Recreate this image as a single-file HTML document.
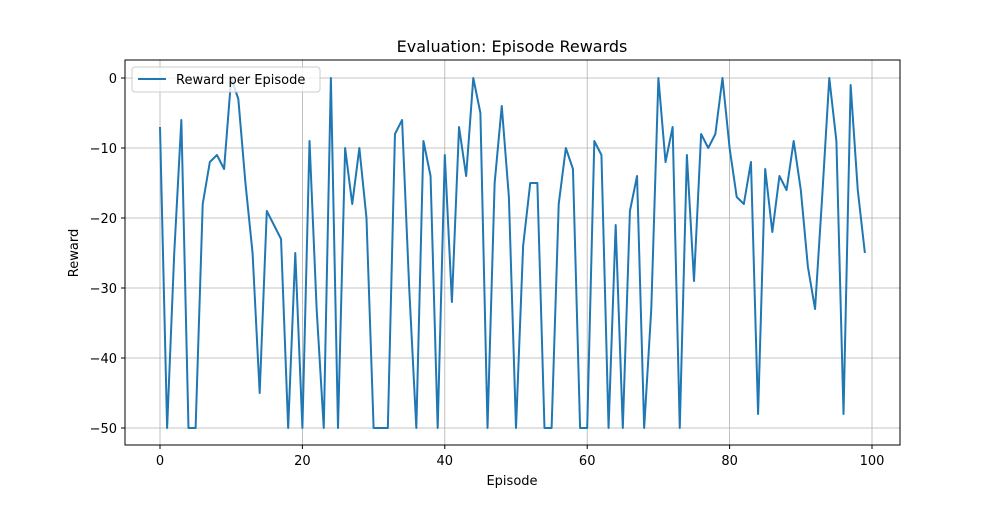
<!DOCTYPE html>
<html><head><meta charset="utf-8"><style>
body{margin:0;background:#fff;font-family:"Liberation Sans","DejaVu Sans",sans-serif}
svg text{font-family:"DejaVu Sans","Liberation Sans",sans-serif;fill:#000}
</style></head><body>
<svg id="chart" width="1000" height="500" xmlns="http://www.w3.org/2000/svg">
<rect width="1000" height="500" fill="#fff"/>
<g id="grid"></g>
<g id="ticks"></g>
<polyline id="line" fill="none" stroke="#1f77b4" stroke-width="2" stroke-linejoin="round"/>
<rect x="125" y="60" width="775" height="385" fill="none" stroke="#000" stroke-width="1"/>
<text x="512" y="52" font-size="16" text-anchor="middle">Evaluation: Episode Rewards</text>
<text x="512" y="485" font-size="13" text-anchor="middle">Episode</text>
<text x="78" y="253" font-size="13" text-anchor="middle" transform="rotate(-90 78 253)">Reward</text>
<g>
<rect x="132" y="67" width="188" height="25" rx="3" fill="#fff" fill-opacity="0.8" stroke="#ccc"/>
<line x1="138" y1="79" x2="166" y2="79" stroke="#1f77b4" stroke-width="2"/>
<text x="176" y="84" font-size="13">Reward per Episode</text>
</g>
</svg>
<script>
const episodes = Array.from({length:100},(_, i)=>i);
const rewards = [-7,-50,-25,-6,-50,-50,-18,-12,-11,-13,0,-3,-15,-25,-45,-19,-21,-23,-50,-25,
-50,-9,-33,-50,0,-50,-10,-18,-10,-20,-50,-50,-50,-8,-6,-30,-50,-9,-14,-50,
-11,-32,-7,-14,0,-5,-50,-15,-4,-17,-50,-24,-15,-15,-50,-50,-18,-10,-13,-50,
-50,-9,-11,-50,-21,-50,-19,-14,-50,-33,0,-12,-7,-50,-11,-29,-8,-10,-8,0,
-10,-17,-18,-12,-48,-13,-22,-14,-16,-9,-16,-27,-33,-17,0,-9,-48,-1,-16,-25];
const xTicks = [0,20,40,60,80,100];
const yTicks = [0,-10,-20,-30,-40,-50];
const X = v => 160 + 7.12*v;
const Y = v => 78 - 7*v;
const NS="http://www.w3.org/2000/svg";
const grid=document.getElementById('grid'), ticks=document.getElementById('ticks');
function mk(tag,attrs,parent){const e=document.createElementNS(NS,tag);for(const k in attrs)e.setAttribute(k,attrs[k]);parent.appendChild(e);return e;}
xTicks.forEach(t=>{
  const g=mk('line',{x1:X(t),x2:X(t),y1:60,y2:445,stroke:'#b0b0b0','stroke-width':0.8},grid);
  
  
  mk('line',{x1:X(t),x2:X(t),y1:445,y2:449,stroke:'#000'},ticks);
  const tx=mk('text',{x:X(t),y:465,'font-size':13,'text-anchor':'middle'},ticks);
  tx.textContent=t;
  
  
});
yTicks.forEach(t=>{
  const g=mk('line',{x1:125,x2:900,y1:Y(t),y2:Y(t),stroke:'#b0b0b0','stroke-width':0.8},grid);
  
  
  mk('line',{x1:121,x2:125,y1:Y(t),y2:Y(t),stroke:'#000'},ticks);
  const tx=mk('text',{x:117,y:Y(t)+5,'font-size':13,'text-anchor':'end'},ticks);
  tx.textContent=t===0?'0':'\u2212'+Math.abs(t);
  
  
});
document.getElementById('line').setAttribute('points',rewards.map((r,i)=>X(episodes[i])+','+Y(r)).join(' '));
</script>
</body></html>
